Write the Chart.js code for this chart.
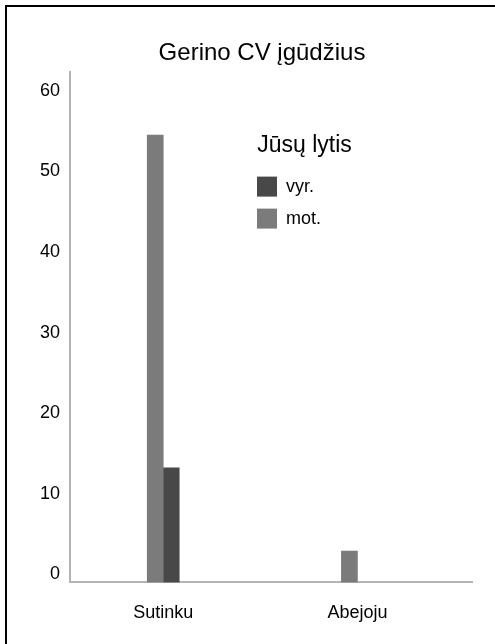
<!DOCTYPE html>
<html>
<head>
<meta charset="utf-8">
<script src="https://cdn.jsdelivr.net/npm/chart.js@4.4.1/dist/chart.umd.min.js"></script>
<style>
    html, body { margin: 0; padding: 0; background: #fff; }
    #wrap { position: relative; width: 495px; height: 644px; overflow: hidden; }
    #frame { position: absolute; left: 5px; top: 5px; width: 600px; height: 700px;
             border-top: 2px solid #000; border-left: 2px solid #000; }
    #myChart { position: absolute; left: 0; top: 0; }
</style>
</head>
<body>
<div id="wrap">
    <div id="frame"></div>
    <canvas id="myChart" width="495" height="644"></canvas>
</div>
<script>
const categories = ['Sutinku', 'Abejoju'];
const motValues = [55.5, 3.9];
const vyrValues = [14.2, null];
const yTicks = [0, 10, 20, 30, 40, 50, 60];

Chart.defaults.font.family = "'Liberation Sans', Arial, sans-serif";

// move the title and the legend where the original has them
const placeBoxes = {
    id: 'placeBoxes',
    afterLayout(chart) {
        const title = chart.titleBlock;
        title.left = 62;
        title.right = 462;

        const legend = chart.legend;
        legend.left = 245;
        legend.top = 134;
        legend.width = 119;
        legend.right = legend.left + legend.width;
        legend.bottom = legend.top + 200;
    }
};

const ctx = document.getElementById('myChart');

new Chart(ctx, {
    type: 'bar',
    data: {
        datasets: [{
            label: 'mot.',
            data: categories.map((c, i) => ({ x: i, y: motValues[i] })),
            backgroundColor: '#7b7b7b',
            borderWidth: 0,
            barThickness: 16
        },
        {
            label: 'vyr.',
            data: categories.map((c, i) => ({ x: i, y: vyrValues[i] })),
            backgroundColor: '#484848',
            borderWidth: 0,
            barThickness: 16
        }]
    },
    options: {
        responsive: false,
        animation: false,
        layout: {
            padding: { top: 0, left: 30, right: 23, bottom: 0 }
        },
        plugins: {
            tooltip: { enabled: false },
            title: {
                display: true,
                text: 'Gerino CV įgūdžius',
                color: '#000',
                font: { size: 24, weight: 'normal' },
                padding: { top: 39, bottom: 4 }
            },
            legend: {
                position: 'chartArea',
                align: 'start',
                reverse: true,
                title: {
                    display: true,
                    text: 'Jūsų lytis',
                    color: '#000',
                    font: { size: 23, weight: 'normal' },
                    padding: { top: 0, bottom: 3 }
                },
                labels: {
                    boxWidth: 20,
                    boxHeight: 20,
                    padding: 12,
                    color: '#000',
                    font: { size: 18 }
                }
            }
        },
        scales: {
            x: {
                type: 'linear',
                min: -0.48,
                max: 1.59,
                bounds: 'data',
                offset: false,
                grid: { display: false, drawTicks: false },
                border: { color: '#b4b4b4', width: 2 },
                afterBuildTicks: scale => {
                    scale.ticks = categories.map((c, i) => ({ value: i }));
                },
                ticks: {
                    callback: value => categories[value],
                    color: '#000',
                    font: { size: 18 },
                    padding: 20,
                    maxRotation: 0,
                    autoSkip: false
                }
            },
            y: {
                min: 0,
                max: 63.35,
                bounds: 'data',
                grid: { display: false, drawTicks: false },
                border: { color: '#b4b4b4', width: 2 },
                afterBuildTicks: scale => {
                    scale.ticks = yTicks.map(v => ({ value: v }));
                },
                ticks: {
                    color: '#000',
                    font: { size: 18 },
                    padding: 10,
                    labelOffset: -8
                }
            }
        }
    },
    plugins: [placeBoxes]
});
</script>
</body>
</html>
